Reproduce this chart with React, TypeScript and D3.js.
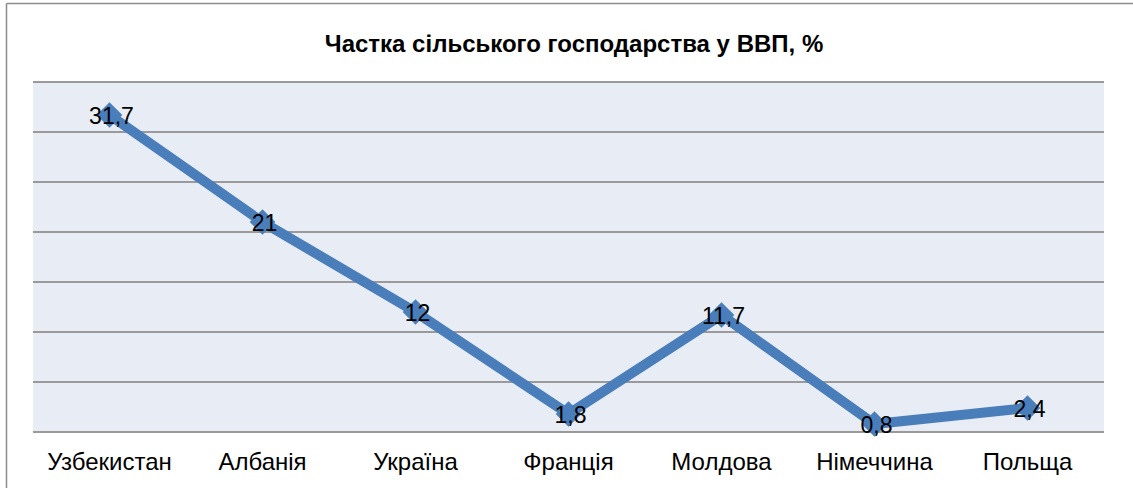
import React, { useRef, useEffect } from 'react';
import * as d3 from 'd3';

const countries = ['Узбекистан', 'Албанія', 'Україна', 'Франція', 'Молдова', 'Німеччина', 'Польща'];
const shares = [31.7, 21, 12, 1.8, 11.7, 0.8, 2.4];
const labels = ['31,7', '21', '12', '1,8', '11,7', '0,8', '2,4'];
const gridTicks = [0, 5, 10, 15, 20, 25, 30, 35];
const title = 'Частка сільського господарства у ВВП, %';

const W = 1133;
const H = 488;

const App = () => {
  const svgRef = useRef<SVGSVGElement>(null);

  useEffect(() => {
    const svg = d3.select(svgRef.current);
    svg.selectAll('*').remove();

    const margin = { top: 82, right: 29, bottom: 56, left: 33 };
    const plotW = W - margin.left - margin.right;
    const plotH = H - margin.top - margin.bottom;
    const font = 'Liberation Sans, Arial, sans-serif';

    // рамка діаграми
    svg.append('line')
      .attr('x1', 6.5).attr('y1', 3.5).attr('x2', W).attr('y2', 3.5)
      .attr('stroke', '#8c8c8c').attr('stroke-width', 1.5);
    svg.append('line')
      .attr('x1', 6.5).attr('y1', 3.5).attr('x2', 6.5).attr('y2', H)
      .attr('stroke', '#8c8c8c').attr('stroke-width', 1.5);

    svg.append('text')
      .attr('x', 574).attr('y', 52)
      .attr('text-anchor', 'middle')
      .attr('font-family', font)
      .attr('font-weight', 'bold')
      .attr('font-size', 24)
      .text(title);

    const g = svg.append('g').attr('transform', `translate(${margin.left},${margin.top})`);

    const x = d3.scaleBand().domain(countries).range([0, plotW]);
    const y = d3.scaleLinear().domain([0, 35]).range([plotH, 0]);

    g.append('rect')
      .attr('width', plotW).attr('height', plotH)
      .attr('fill', '#e8ecf4');

    g.selectAll('.grid')
      .data(gridTicks)
      .enter()
      .append('line')
      .attr('class', 'grid')
      .attr('x1', 0).attr('x2', plotW)
      .attr('y1', d => y(d)).attr('y2', d => y(d))
      .attr('stroke', '#9a9a9a')
      .attr('stroke-width', 2);

    const cx = (c: string) => (x(c) as number) + x.bandwidth() / 2;

    const line = d3.line<number>()
      .x((d, i) => cx(countries[i]))
      .y(d => y(d));

    g.append('path')
      .datum(shares)
      .attr('d', line)
      .attr('fill', 'none')
      .attr('stroke', '#4a7ebb')
      .attr('stroke-width', 10)
      .attr('stroke-linejoin', 'miter');

    g.selectAll('.mark')
      .data(shares)
      .enter()
      .append('path')
      .attr('class', 'mark')
      .attr('d', d3.symbol().type(d3.symbolDiamond2).size(420))
      .attr('transform', (d, i) => `translate(${cx(countries[i])},${y(d)})`)
      .attr('fill', '#4a7ebb');

    g.selectAll('.val')
      .data(shares)
      .enter()
      .append('text')
      .attr('class', 'val')
      .attr('x', (d, i) => cx(countries[i]) + 2)
      .attr('y', d => y(d) + 9)
      .attr('text-anchor', 'middle')
      .attr('font-family', font)
      .attr('font-size', 23)
      .attr('fill', '#000')
      .text((d, i) => labels[i]);

    g.selectAll('.cat')
      .data(countries)
      .enter()
      .append('text')
      .attr('class', 'cat')
      .attr('x', d => cx(d))
      .attr('y', plotH + 38)
      .attr('text-anchor', 'middle')
      .attr('font-family', font)
      .attr('font-size', 24)
      .attr('fill', '#000')
      .text(d => d);
  }, []);

  return (
    <svg
      ref={svgRef}
      width={W}
      height={H}
      style={{ position: 'fixed', left: 0, top: 0, background: '#fff', display: 'block' }}
    />
  );
};

export default App;
